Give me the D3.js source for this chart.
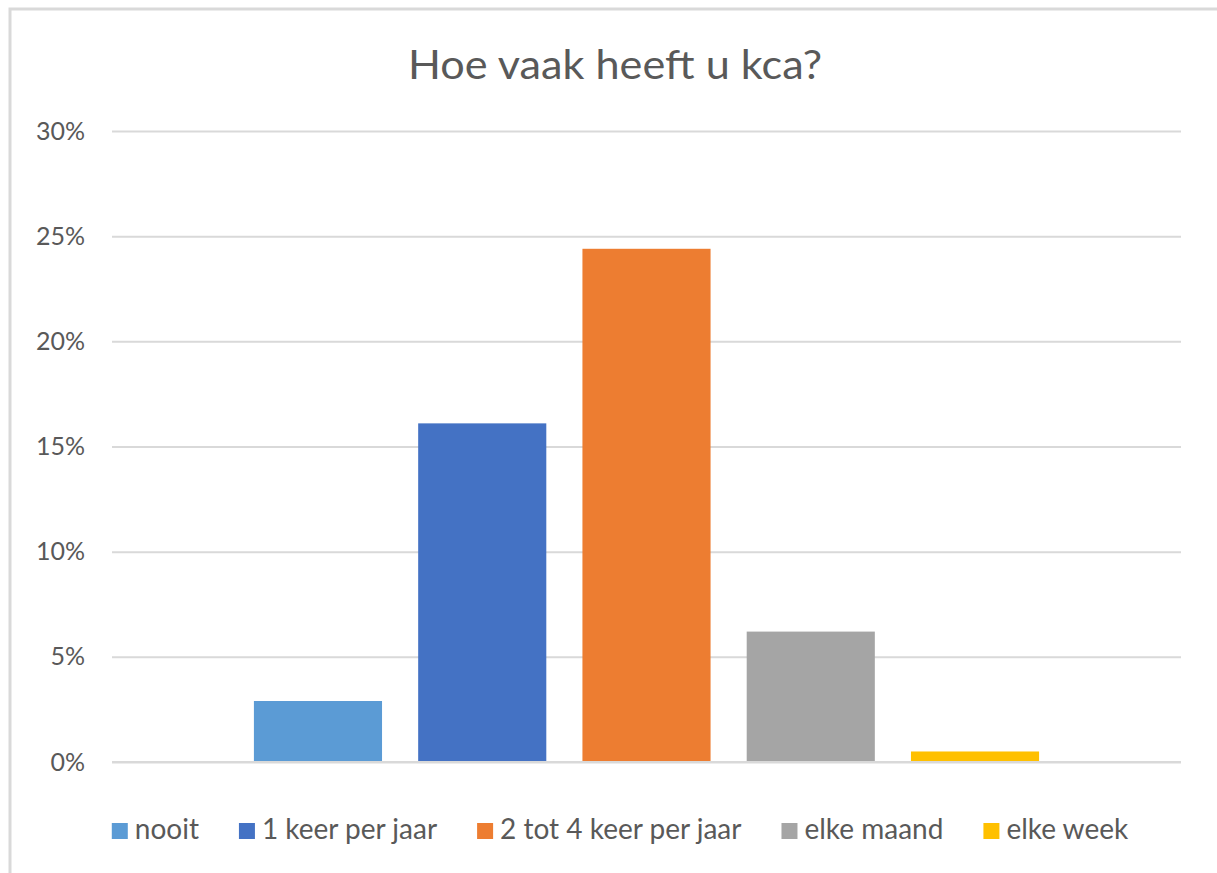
<!DOCTYPE html>
<html>
<head>
<meta charset="utf-8">
<script src="https://cdn.jsdelivr.net/npm/d3@7"></script>
<style>
  html, body { margin: 0; padding: 0; background: #fff; }
  svg { display: block; }
  text { font-family: Lato, "Open Sans", sans-serif; fill: #595959; }
</style>
</head>
<body>
<svg id="chart" width="1217" height="873"></svg>
<script>
const title = "Hoe vaak heeft u kca?";
const series = ["nooit", "1 keer per jaar", "2 tot 4 keer per jaar", "elke maand", "elke week"];
const values = [0.029, 0.161, 0.244, 0.062, 0.005];
const colors = ["#5B9BD5", "#4472C4", "#ED7D31", "#A5A5A5", "#FFC000"];
const yTicks = [0, 0.05, 0.10, 0.15, 0.20, 0.25, 0.30];

const svg = d3.select("#chart");
const W = 1217, H = 873;

// chart border
svg.append("rect")
  .attr("x", 10).attr("y", 9).attr("width", W + 20).attr("height", H + 20)
  .attr("fill", "#fff").attr("stroke", "#d9d9d9").attr("stroke-width", 3);

const plot = { left: 112, right: 1181, top: 131, bottom: 762 };

const y = d3.scaleLinear().domain([0, 0.30]).range([plot.bottom, plot.top]);
const xOuter = d3.scaleBand().domain(["all"]).range([plot.left, plot.right]).paddingOuter(0).paddingInner(0);
const groupWidth = xOuter.bandwidth() * 0.7345;
const groupStart = xOuter("all") + (xOuter.bandwidth() - groupWidth) / 2;
const x = d3.scaleBand().domain(series).range([groupStart, groupStart + groupWidth]).paddingInner(0.22).paddingOuter(0);

// gridlines
const yAxis = d3.axisLeft(y).tickValues(yTicks).tickSize(-(plot.right - plot.left)).tickFormat(d3.format(".0%")).tickPadding(27);
const gAxis = svg.append("g").attr("transform", `translate(${plot.left},0)`).call(yAxis);
gAxis.select(".domain").remove();
gAxis.selectAll(".tick line").attr("stroke", "#d9d9d9").attr("stroke-width", 2);
gAxis.selectAll(".tick text")
  .attr("font-size", 25).attr("font-family", "Lato, 'Open Sans', sans-serif").attr("fill", "#595959");

// bars
svg.append("g").selectAll("rect").data(series).join("rect")
  .attr("x", d => x(d))
  .attr("width", x.bandwidth())
  .attr("y", (d, i) => y(values[i]))
  .attr("height", (d, i) => y(0) - y(values[i]))
  .attr("fill", (d, i) => colors[i]);

// baseline redraw on top
svg.append("line")
  .attr("x1", plot.left).attr("x2", plot.right)
  .attr("y1", y(0)).attr("y2", y(0))
  .attr("stroke", "#d9d9d9").attr("stroke-width", 2);

// title
svg.append("text")
  .attr("x", 615).attr("y", 79)
  .attr("text-anchor", "middle")
  .attr("font-size", 40)
  .attr("textLength", 414)
  .attr("lengthAdjust", "spacingAndGlyphs")
  .text(title);

// legend
const legendFont = 28;
const sw = 16, gapSw = 7, gapItem = 40;
const legend = svg.append("g");
const items = legend.selectAll("g").data(series).join("g");
items.append("rect").attr("width", sw).attr("height", sw).attr("y", -sw).attr("fill", (d, i) => colors[i]);
items.append("text").attr("x", sw + gapSw).attr("y", 0).attr("font-size", legendFont).text(d => d);
let offs = [], cur = 0;
items.each(function (d) {
  offs.push(cur);
  const tw = d3.select(this).select("text").node().getComputedTextLength();
  cur += sw + gapSw + tw + gapItem;
});
const totalW = cur - gapItem;
const lx = 620 - totalW / 2;
items.attr("transform", (d, i) => `translate(${lx + offs[i]},${839})`);
</script>
</body>
</html>
